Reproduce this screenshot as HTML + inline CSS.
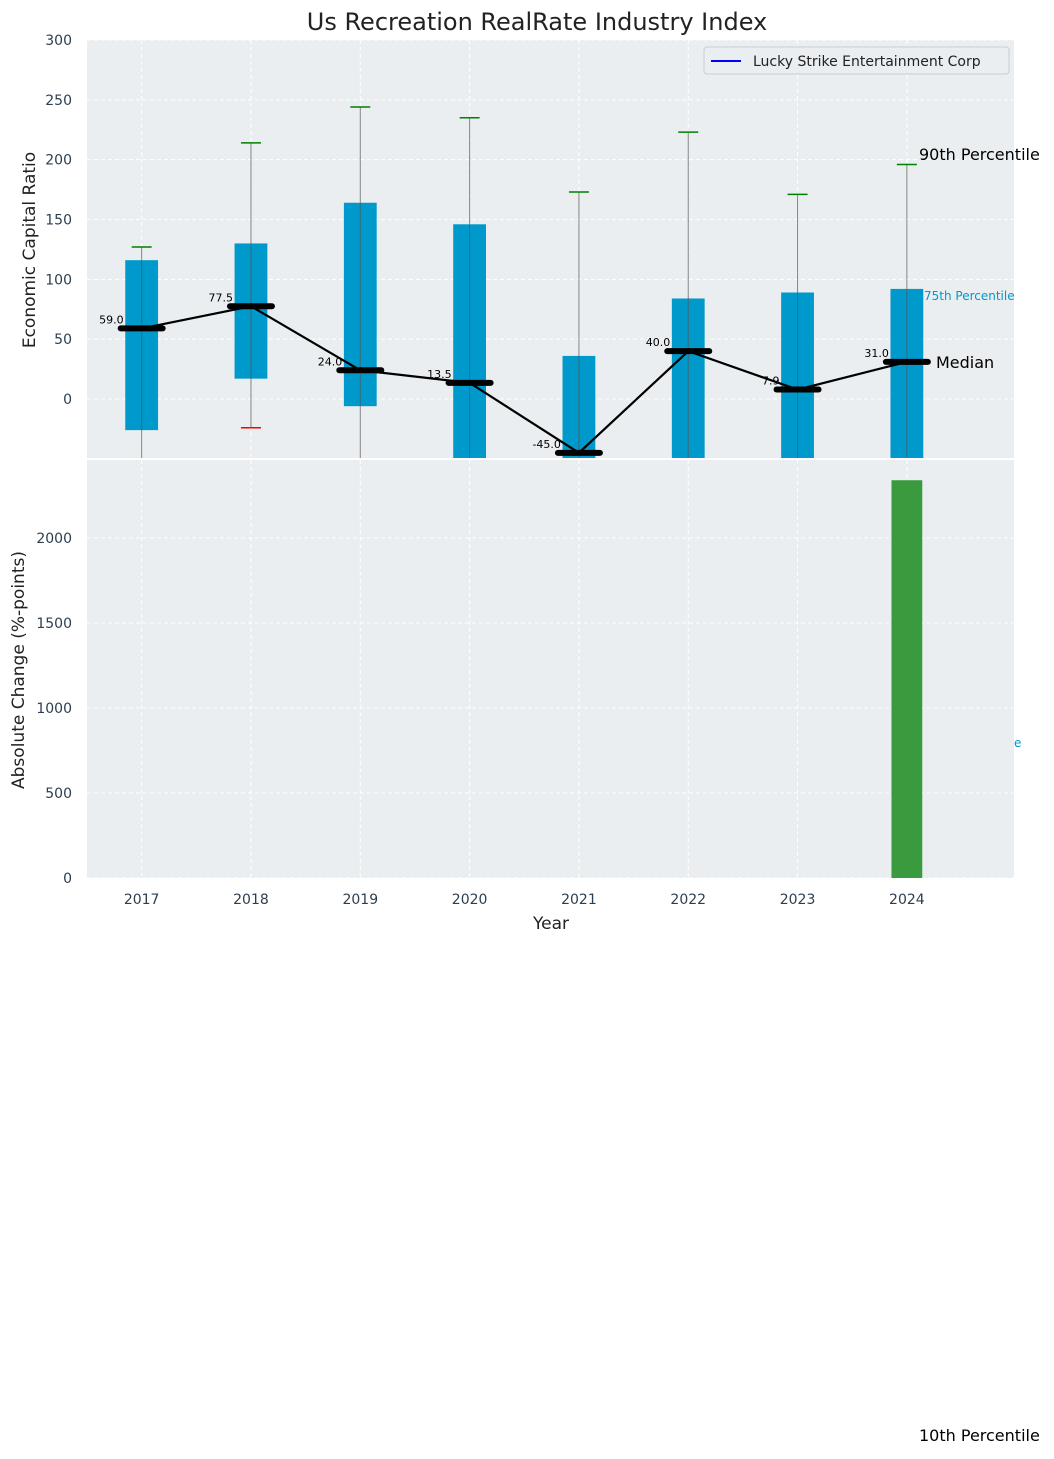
<!DOCTYPE html>
<html><head><meta charset="utf-8"><style>
body{margin:0;background:#fff;font-family:"Liberation Sans","DejaVu Sans",sans-serif}
svg text{font-family:"DejaVu Sans","Liberation Sans",sans-serif}
</style></head><body>
<svg id="c" width="1054" height="1454" xmlns="http://www.w3.org/2000/svg"></svg>
<script>
const years=[2017,2018,2019,2020,2021,2022,2023,2024];
const p75=[116,130,164,146,36,84,89,92];
const p25=[-26,17,-6,-80,-80,-80,-80,-80];
const p90=[127,214,244,235,173,223,171,196];
const p10=[-90,-24,-90,-90,-90,-90,-90,-90];
const med=[59,77.5,24,13.5,-45,40,7.9,31];
const medLabels=["59.0","77.5","24.0","13.5","-45.0","40.0","7.9","31.0"];
const change=[0,0,0,0,0,0,0,2340];
const topTicks=[0,50,100,150,200,250,300];
const botTicks=[0,500,1000,1500,2000];
const NS="http://www.w3.org/2000/svg",svg=document.getElementById('c');
function el(t,a,txt){const e=document.createElementNS(NS,t);for(const k in a)e.setAttribute(k,a[k]);if(txt!==undefined)e.textContent=txt;svg.appendChild(e);return e;}
const L=87,R=1014,T1=40,B1=458,T2=460,B2=878;
const x=v=>L+(v-2016.5)/(2024.98-2016.5)*(R-L);
const y1=v=>B1-(v+49.3)/(300+49.3)*(B1-T1);
const y2=v=>B2-v/2459*(B2-T2);
const cl=v=>Math.max(T1,Math.min(B1,v));
let e;
e=el('rect',{x:L,y:T1,width:R-L,height:B1-T1,fill:'#eaeef0'});

e=el('rect',{x:L,y:T2,width:R-L,height:B2-T2,fill:'#eaeef0'});

topTicks.forEach(t=>{el('line',{x1:L,x2:R,y1:y1(t),y2:y1(t),stroke:'#fff','stroke-dasharray':'4,3'});
 e=el('text',{x:72,y:y1(t)+5,'text-anchor':'end','font-size':14,fill:'#2c3e50'},t);});
botTicks.forEach(t=>{el('line',{x1:L,x2:R,y1:y2(t),y2:y2(t),stroke:'#fff','stroke-dasharray':'4,3'});
 e=el('text',{x:72,y:y2(t)+5,'text-anchor':'end','font-size':14,fill:'#2c3e50'},t);});
years.forEach(yr=>{el('line',{x1:x(yr),x2:x(yr),y1:T1,y2:B1,stroke:'#fff','stroke-dasharray':'4,3'});el('line',{x1:x(yr),x2:x(yr),y1:T2,y2:B2,stroke:'#fff','stroke-dasharray':'4,3'});
 e=el('text',{x:x(yr),y:904,'text-anchor':'middle','font-size':14,fill:'#2c3e50'},yr);});
const bw=(x(2017.3)-x(2017));
years.forEach((yr,i)=>{
 const top=cl(y1(p75[i])),bot=cl(y1(p25[i]));
 e=el('rect',{x:x(yr)-bw/2,y:top,width:bw,height:bot-top,fill:'#0099cc'});
 
 e=el('line',{x1:x(yr),x2:x(yr),y1:cl(y1(p90[i])),y2:cl(y1(p10[i])),stroke:'#555','stroke-width':1,opacity:0.7});
 
 e=el('line',{x1:x(yr)-10,x2:x(yr)+10,y1:y1(p90[i]),y2:y1(p90[i]),stroke:'green','stroke-width':1.5});
 
 if(y1(p10[i])<=B1){e=el('line',{x1:x(yr)-10,x2:x(yr)+10,y1:y1(p10[i]),y2:y1(p10[i]),stroke:'red','stroke-width':1.5});
 }
 if(change[i]>0){e=el('rect',{x:x(yr)-bw/2+1,y:y2(change[i]),width:bw-2,height:B2-y2(change[i]),fill:'#3a9b3e'});
 }
});
e=el('polyline',{points:years.map((yr,i)=>x(yr)+','+y1(med[i])).join(' '),fill:'none',stroke:'#000','stroke-width':2.2});

years.forEach((yr,i)=>{
 e=el('line',{x1:x(yr)-21,x2:x(yr)+21,y1:y1(med[i]),y2:y1(med[i]),stroke:'#000','stroke-width':6,'stroke-linecap':'round'});
 
 e=el('text',{x:x(yr)-18,y:y1(med[i])-5,'text-anchor':'end','font-size':11,fill:'#000'},medLabels[i]);
 
});
function t(a,s,n){e=el('text',a,s);}
t({x:537,y:30,'text-anchor':'middle','font-size':24,fill:'#222'},'Us Recreation RealRate Industry Index','chart-title');
t({x:35,y:250,'text-anchor':'middle','font-size':17,fill:'#222',transform:'rotate(-90 35 250)'},'Economic Capital Ratio','y-axis-title');
t({x:24,y:670,'text-anchor':'middle','font-size':17,fill:'#222',transform:'rotate(-90 24 670)'},'Absolute Change (%-points)','y2-axis-title');
t({x:551,y:929,'text-anchor':'middle','font-size':17,fill:'#222'},'Year','x-axis-title');
t({x:919,y:160,'font-size':16,fill:'#000'},'90th Percentile','annot-90th');
t({x:924,y:300,'font-size':12,fill:'#0099cc'},'75th Percentile','annot-75th');
t({x:936,y:368,'font-size':16,fill:'#000'},'Median','annot-median');
t({x:919,y:1441,'font-size':16,fill:'#000'},'10th Percentile','annot-10th');
t({x:1014,y:747,'font-size':12,fill:'#0099cc'},'e','annot-clipped');
e=el('rect',{x:704,y:47,width:305,height:27,fill:'#eaeef0',stroke:'#ccc',rx:3});

e=el('line',{x1:711,x2:741,y1:61,y2:61,stroke:'blue','stroke-width':2});

t({x:753,y:66,'font-size':14,fill:'#222'},'Lucky Strike Entertainment Corp','legend-entry');
</script>
</body></html>
